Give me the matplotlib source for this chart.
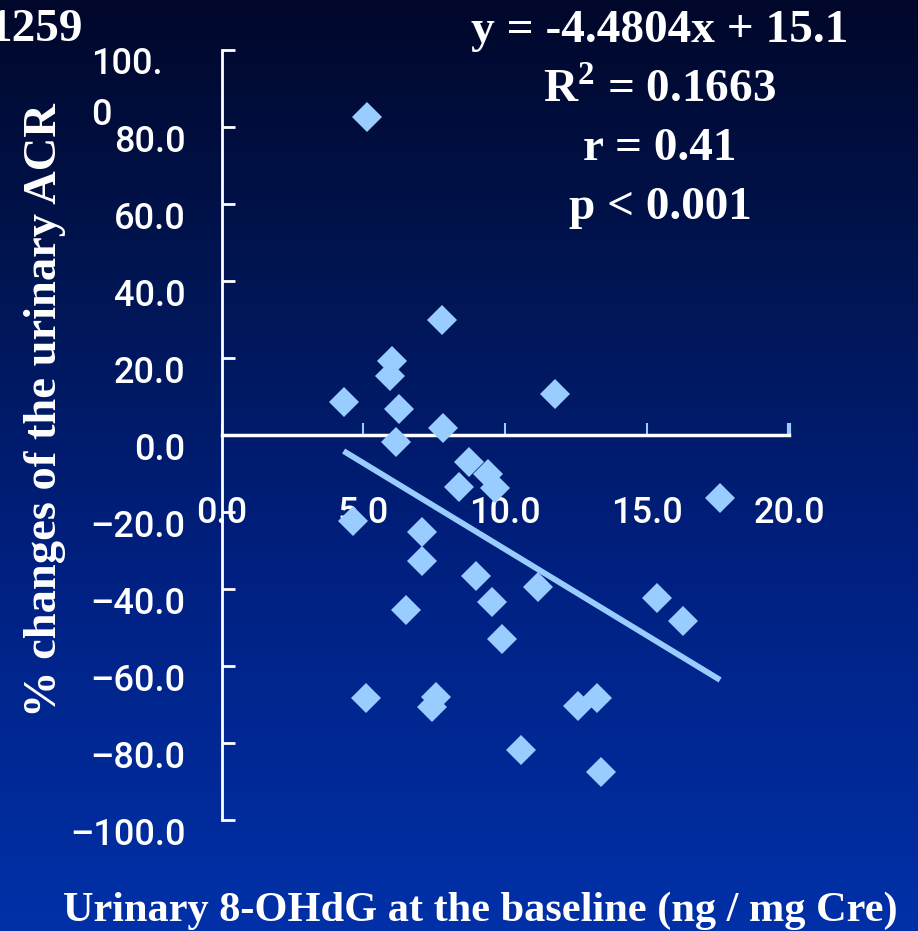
import numpy as np
import matplotlib.pyplot as plt
from matplotlib.colors import LinearSegmentedColormap
from matplotlib.transforms import ScaledTranslation


# Urinary 8-OHdG at baseline vs % change of urinary ACR
ohdg = [5.13, 7.78, 6.02, 5.92, 11.74, 4.30, 6.27, 7.79, 6.16, 8.71,
        9.39, 8.35, 9.63, 17.57, 4.62, 7.07, 7.07, 8.95, 11.16, 15.35,
        9.53, 6.50, 16.27, 9.87, 5.10, 7.55, 7.43, 13.24, 12.55, 10.57,
        13.36]
acr_change = [82.6, 29.9, 19.2, 15.3, 10.6, 8.6, 6.7, 1.9, -1.9, -6.9,
              -10.1, -13.4, -13.8, -16.4, -22.4, -25.1, -32.8, -36.5, -39.6, -42.4,
              -43.3, -45.4, -48.2, -53.0, -68.3, -68.1, -70.6, -68.3, -70.3, -81.7,
              -87.4]

# Regression line
slope = -4.4804
intercept = 15.1

xticks = [0, 5, 10, 15, 20]
xtick_labels = ['0.0', '5.0', '10.0', '15.0', '20.0']
yticks = [-100, -80, -60, -40, -20, 0, 20, 40, 60, 80, 100]
ytick_labels = ['\u2013100.0', '\u201380.0', '\u201360.0', '\u201340.0', '\u201320.0',
                '0.0', '20.0', '40.0', '60.0', '80.0', '100.\n0']

stats_lines = ['y = -4.4804x + 15.1', 'R$^{\\mathbf{2}}$ = 0.1663', 'r = 0.41', 'p < 0.001']

MARK = '#99CCFF'
SERIF = 'Liberation Serif'
SANS = 'Roboto'

plt.rcParams['mathtext.fontset'] = 'custom'
plt.rcParams['mathtext.rm'] = 'Liberation Serif:bold'
plt.rcParams['mathtext.bf'] = 'Liberation Serif:bold'

fig = plt.figure(figsize=(9.18, 9.31), dpi=100)

# Background gradient, dark navy at the top to royal blue at the bottom
bg = fig.add_axes([0, 0, 1, 1], zorder=0)
cmap = LinearSegmentedColormap.from_list(
    'bg', [(0, '#00072A'), (0.3, '#011553'), (0.6, '#00207F'), (1, '#0030A8')])
bg.imshow(np.linspace(0, 1, 256).reshape(-1, 1), cmap=cmap, aspect='auto',
          extent=[0, 1, 0, 1])
bg.axis('off')

ax = fig.add_axes([0.2414, 0.1192, 0.6181, 0.8271], zorder=1)
ax.set_facecolor('none')

ax.plot(ohdg, acr_change, 'D', color=MARK, markersize=15, markeredgewidth=0, zorder=3)

xfit = np.array([min(ohdg), max(ohdg)])
ax.plot(xfit, slope * xfit + intercept, color=MARK, linewidth=4.2, zorder=2,
        solid_capstyle='butt')

ax.set_xlim(0, 20)
ax.set_ylim(-100, 100)

# Axis lines: y axis at the left, x axis through zero
for s in ['top', 'right']:
    ax.spines[s].set_visible(False)
ax.spines['bottom'].set_position(('data', 0))
ax.spines['bottom'].set_color('white')
ax.spines['bottom'].set_linewidth(2.5)
ax.spines['left'].set_color('white')
ax.spines['left'].set_linewidth(2)

ax.tick_params(axis='x', direction='in', length=9, width=1.5, color=MARK,
               pad=44, labelsize=26, labelcolor='white')
ax.tick_params(axis='y', direction='in', length=9, width=2, color='white',
               pad=26, labelsize=26, labelcolor='white')

ax.set_xticks(xticks, xtick_labels, fontfamily=SANS, fontweight='medium')
ax.set_yticks(yticks, ytick_labels, fontfamily=SANS, fontweight='medium')

# last x tick drawn in black
xt = ax.xaxis.get_major_ticks()
xt[-1].tick1line.set_color('black')
xt[-1].tick1line.set_markeredgewidth(3)

# y tick labels sit a little below their ticks
ylabs = ax.get_yticklabels()
down = ScaledTranslation(0, -8 / 72, fig.dpi_scale_trans)
for lab in ylabs[:-1]:
    lab.set_transform(lab.get_transform() + down)
top_lab = ylabs[-1]
top_lab.set_horizontalalignment('left')
top_lab.set_verticalalignment('top')
top_lab.set_multialignment('left')
top_lab.set_linespacing(1.6)
top_lab.set_transform(top_lab.get_transform()
                      + ScaledTranslation(-68 / 72, 2 / 72, fig.dpi_scale_trans))

# Axis titles
fig.text(0.049, 0.56, '% changes of the urinary ACR', rotation=90,
         ha='center', va='center', color='white', fontsize=33.5,
         fontweight='bold', family=SERIF)
fig.text(0.523, 0.022, 'Urinary 8-OHdG at the baseline (ng / mg Cre)',
         ha='center', va='center', color='white', fontsize=30.5,
         fontweight='bold', family=SERIF)

fig.text(0.09, 0.968, '1259', ha='right', va='center', color='white',
         fontsize=34, fontweight='bold', family=SERIF)

# Regression statistics
for i, line in enumerate(stats_lines):
    fig.text(0.719, 0.967 - i * 0.0635, line, ha='center', va='center',
             color='white', fontsize=34, fontweight='bold', family=SERIF)

fig.savefig('out.png', dpi=100)
